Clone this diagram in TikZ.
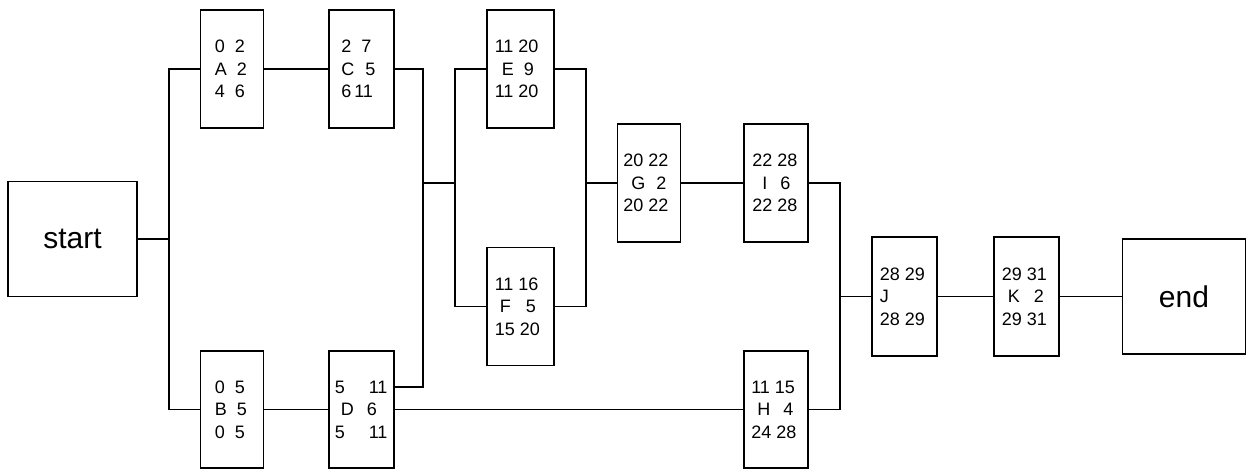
\documentclass[tikz,border=0pt]{standalone}
\usepackage{fontspec}
\setmainfont{Liberation Sans}
\newcommand\pgap[1]{\hspace{#1pt}}
\begin{document}
\begin{tikzpicture}[x=1pt,y=-1pt,
  actbox/.style={draw, line width=1.8pt, minimum width=63pt, minimum height=118pt, inner sep=0pt},
  lowbox/.style={actbox, minimum height=117pt},
  termbox/.style={draw, line width=1.8pt, inner sep=0pt, font=\fontsize{30}{36}\selectfont},
  lbl/.style={anchor=west, inner sep=0pt, align=left, font=\fontsize{18}{22.5}\selectfont},
  wire/.style={line width=1.8pt}]
\useasboundingbox (0,0) rectangle (1248,470);

% terminal boxes
\node[termbox, minimum width=129pt, minimum height=115pt] (start) at (72.5,239) {start};
\node[termbox, minimum width=123pt, minimum height=115pt] (end) at (1184,296.5) {end};

% activity boxes
\node[actbox] (A) at (232,69) {};
\node[actbox, minimum width=65pt] (C) at (361.5,69) {};
\node[lowbox] (B) at (232,409.5) {};
\node[lowbox, minimum width=65pt] (D) at (361.5,409.5) {};
\node[actbox, minimum width=67pt] (E) at (520.5,69) {};
\node[actbox, minimum width=67pt] (F) at (520.5,306.5) {};
\node[actbox] (G) at (649,183) {};
\node[actbox, minimum width=64pt] (I) at (776,183) {};
\node[lowbox, minimum width=64pt] (H) at (776,409.5) {};
\node[actbox, minimum width=65pt, minimum height=119pt] (J) at (904.5,296.5) {};
\node[actbox, minimum width=65pt, minimum height=119pt] (K) at (1026.5,296.5) {};

% labels
\node[lbl] (tA) at ([xshift=15pt]A.west) {0\pgap{10}2\\A\pgap{10}2\\4\pgap{10}6};
\node[lbl] (tB) at ([xshift=15pt]B.west) {0\pgap{10}5\\B\pgap{10}5\\0\pgap{10}5};
\node[lbl] (tC) at ([xshift=13pt]C.west) {2\pgap{10}7\\C\pgap{11}5\\6\pgap{3}11};
\node[lbl] (tD) at ([xshift=6.5pt]D.west) {5\pgap{24}11\\\pgap{6}D\pgap{13}6\\5\pgap{24}11};
\node[lbl] (tE) at ([xshift=8.5pt]E.west) {11\pgap{5}20\\\pgap{7}E\pgap{10}9\\11\pgap{5}20};
\node[lbl] (tF) at ([xshift=8.5pt]F.west) {11\pgap{5}16\\\pgap{5}F\pgap{15}5\\15\pgap{5}20};
\node[lbl] (tG) at ([xshift=6.5pt]G.west) {20\pgap{5}22\\\pgap{8}G\pgap{11}2\\20\pgap{5}22};
\node[lbl] (tI) at ([xshift=9pt]I.west) {22\pgap{5}28\\\pgap{10}I\pgap{13}6\\22\pgap{5}28};
\node[lbl] (tH) at ([xshift=8pt]H.west) {11\pgap{5}15\\\pgap{6}H\pgap{13}4\\24\pgap{5}28};
\node[lbl] (tJ) at ([xshift=8.5pt]J.west) {28\pgap{5}29\\J\\28\pgap{5}29};
\node[lbl] (tK) at ([xshift=8.5pt]K.west) {29\pgap{5}31\\\pgap{6}K\pgap{14}2\\29\pgap{5}31};

% junction points
\coordinate (s) at (169,239);
\coordinate (cd) at (423,183);
\coordinate (ef) at (455,183);
\coordinate (fg) at (586,183);
\coordinate (ij) at (840,296.5);

% connectors
\draw[wire] (start.east) -- (s);
\draw[wire] (A.west) -| (s) |- (B.west);
\draw[wire] (A.east) -- (C.west);
\draw[wire] (B.east) -- (D.west);
\draw[wire] (C.east) -| (cd) |- ([yshift=22.5pt]D.east);
\draw[wire] (cd) -- (ef);
\draw[wire] (E.west) -| (ef) |- (F.west);
\draw[wire] (E.east) -| (fg) |- (F.east);
\draw[wire] (fg) -- (G.west);
\draw[wire] (G.east) -- (I.west);
\draw[wire] (D.east) -- (H.west);
\draw[wire] (I.east) -| (ij) |- (H.east);
\draw[wire] (ij) -- (J.west);
\draw[wire] (J.east) -- (K.west);
\draw[wire] (K.east) -- (end.west);
\end{tikzpicture}
\end{document}
